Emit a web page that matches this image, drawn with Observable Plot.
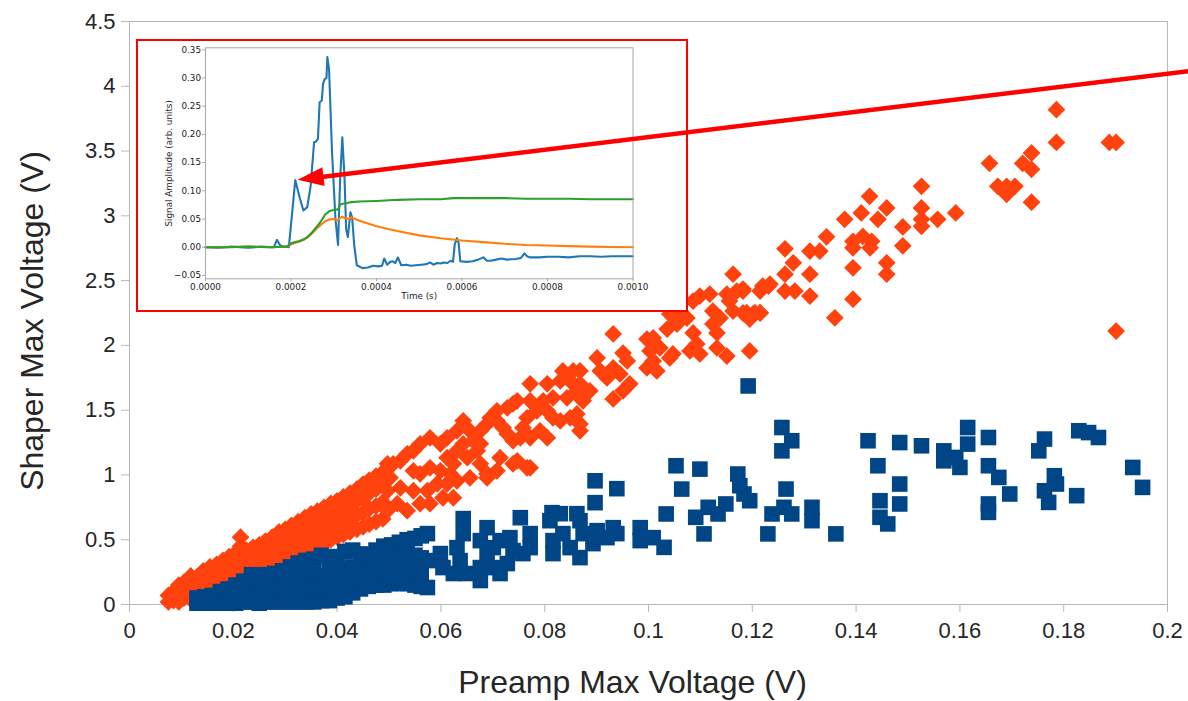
<!DOCTYPE html>
<html><head><meta charset="utf-8">
<script src="https://cdn.jsdelivr.net/npm/d3@7"></script>
<script src="https://cdn.jsdelivr.net/npm/@observablehq/plot@0.6"></script>
<style>
html,body{margin:0;padding:0;background:#fff;}
#chart{width:1188px;height:701px;}
</style></head><body><div id="chart"></div>
<script>
// ---- Main scatter: Preamp Max Voltage (V) vs Shaper Max Voltage (V) ----
const xLabel = "Preamp Max Voltage (V)";
const yLabel = "Shaper Max Voltage (V)";
const xTicks = [0, 0.02, 0.04, 0.06, 0.08, 0.1, 0.12, 0.14, 0.16, 0.18, 0.2];
const yTicks = [0, 0.5, 1, 1.5, 2, 2.5, 3, 3.5, 4, 4.5];

// orange diamond series
const orangeDiamonds = [
  [0.0075,0.02],[0.0075,0.07],[0.0085,0.03],[0.0085,0.10],
  [0.0095,0.02],[0.0095,0.09],[0.0095,0.15],
  [0.0105,0.05],[0.0105,0.12],[0.0105,0.17],
  [0.0118,0.04],[0.0118,0.10],[0.0118,0.18],[0.0118,0.22],
  [0.013,0.07],[0.013,0.14],[0.013,0.21],
  [0.0142,0.06],[0.0142,0.12],[0.0142,0.19],[0.0142,0.26],
  [0.0155,0.09],[0.0155,0.16],[0.0155,0.23],[0.0155,0.29],
  [0.0168,0.10],[0.0168,0.18],[0.0168,0.25],[0.0168,0.31],
  [0.018,0.13],[0.018,0.20],[0.018,0.28],[0.018,0.34],
  [0.0192,0.15],[0.0192,0.23],[0.0192,0.31],[0.0192,0.37],
  [0.0205,0.18],[0.0205,0.26],[0.0205,0.34],[0.0205,0.40],
  [0.0214,0.22],[0.0214,0.30],[0.0214,0.38],[0.0214,0.45],[0.0214,0.52],
  [0.0225,0.20],[0.0225,0.28],[0.0225,0.36],[0.0225,0.42],
  [0.0238,0.22],[0.0238,0.31],[0.0238,0.39],[0.0238,0.44],
  [0.025,0.25],[0.025,0.33],[0.025,0.41],[0.025,0.46],
  [0.0262,0.27],[0.0262,0.36],[0.0262,0.44],[0.0262,0.49],
  [0.0275,0.30],[0.0275,0.38],[0.0275,0.46],[0.0275,0.52],
  [0.0288,0.31],[0.0288,0.40],[0.0288,0.48],[0.0288,0.56],
  [0.03,0.34],[0.03,0.43],[0.03,0.51],[0.03,0.58],
  [0.0312,0.36],[0.0312,0.45],[0.0312,0.53],[0.0312,0.61],
  [0.0325,0.38],[0.0325,0.47],[0.0325,0.56],[0.0325,0.64],
  [0.0338,0.40],[0.0338,0.50],[0.0338,0.59],[0.0338,0.67],
  [0.035,0.42],[0.035,0.52],[0.035,0.61],[0.035,0.70],
  [0.0362,0.45],[0.0362,0.55],[0.0362,0.64],[0.0362,0.72],
  [0.0375,0.47],[0.0375,0.57],[0.0375,0.66],[0.0375,0.75],
  [0.0388,0.50],[0.0388,0.60],[0.0388,0.69],[0.0388,0.78],
  [0.04,0.52],[0.04,0.62],[0.04,0.72],[0.04,0.80],
  [0.0412,0.54],[0.0412,0.64],[0.0412,0.74],[0.0412,0.83],
  [0.0425,0.56],[0.0425,0.66],[0.0425,0.77],[0.0425,0.86],
  [0.0438,0.58],[0.0438,0.69],[0.0438,0.80],[0.0438,0.89],
  [0.045,0.60],[0.045,0.71],[0.045,0.82],[0.045,0.93],
  [0.0462,0.62],[0.0462,0.74],[0.0462,0.86],[0.0462,0.96],
  [0.0475,0.64],[0.0475,0.76],[0.0475,0.89],[0.0475,0.99],
  [0.0488,0.66],[0.0488,0.79],[0.0488,0.92],[0.0488,1.02],
  [0.1163,2.550],[0.1099,2.381],[0.1118,2.396],[0.1086,2.342],[0.1151,2.396],[0.1170,2.419],[0.1182,2.435],[0.1156,2.342],[0.1220,2.458],[0.1234,2.473],
  [0.1041,2.242],[0.1061,2.265],[0.1074,2.211],[0.1055,2.165],[0.1036,2.126],
  [0.1124,2.265],[0.1138,2.211],[0.1124,2.165],[0.1132,2.096],
  [0.1163,2.265],[0.1182,2.250],[0.1201,2.242],[0.1215,2.250],
  [0.1086,2.096],[0.1093,2.011],[0.1080,1.957],[0.1099,1.934],[0.1132,1.980],[0.1151,1.918],[0.1195,1.957],
  [0.0997,2.049],[0.1009,2.057],[0.1022,1.980],[0.1003,1.957],[0.1009,1.880],[0.1041,1.903],[0.1047,1.934],[0.0997,1.826],[0.1016,1.803],
  [0.0932,2.088],[0.0951,1.941],[0.0959,1.880],[0.0932,1.826],[0.0920,1.749],[0.0945,1.780],[0.0964,1.703],[0.0951,1.649],[0.0932,1.587],
  [0.0901,1.903],[0.0907,1.803],
  [0.0835,1.803],[0.0855,1.803],[0.0868,1.803],[0.0830,1.726],[0.0849,1.726],
  [0.0772,1.703],[0.0805,1.703],[0.0868,1.703],[0.0862,1.649],[0.0868,1.595],[0.0843,1.595],[0.0816,1.595],[0.0797,1.572],[0.0887,1.649],[0.0874,1.572],
  [0.0772,1.572],[0.0747,1.572],[0.0739,1.549],[0.0728,1.518],
  [0.0785,1.495],[0.0805,1.495],[0.0816,1.441],[0.0830,1.418],[0.0849,1.441],[0.0862,1.471],[0.0868,1.394],[0.0868,1.341],
  [0.0766,1.441],[0.0758,1.364],[0.0772,1.287],[0.0791,1.341],[0.0805,1.287],
  [0.0708,1.495],[0.0695,1.441],[0.0689,1.394],[0.0676,1.341],[0.0708,1.418],[0.0720,1.364],[0.0728,1.317],[0.0739,1.264],[0.0753,1.287],
  [0.0747,1.109],[0.0772,1.055],[0.0714,1.133],[0.0708,1.032],[0.0689,0.978],
  [0.0643,1.418],[0.0656,1.341],[0.0631,1.341],[0.0612,1.287],[0.0599,1.240],[0.0579,1.287],[0.0560,1.240],[0.0547,1.186],[0.0535,1.163],[0.0522,1.109],[0.0508,1.086],[0.0497,1.086],
  [0.0643,1.240],[0.0631,1.186],[0.0651,1.133],[0.0670,1.186],[0.0676,1.240],[0.0662,1.264],
  [0.0612,1.133],[0.0624,1.086],[0.0618,1.009],[0.0599,1.032],[0.0579,1.055],[0.0560,1.009],[0.0547,1.032],
  [0.0676,1.086],[0.0689,1.009],[0.0656,0.978],[0.0631,0.955],[0.0612,0.932],[0.0593,0.932],[0.0574,0.878],[0.0547,0.878],[0.0522,0.901],[0.0502,0.978],[0.0497,0.878],
  [0.0516,0.778],[0.0497,0.724],[0.0535,0.724],[0.0560,0.778],[0.0579,0.778],[0.0604,0.824],[0.0624,0.824],
  [0.0739,1.086],[0.0766,1.055],
  [0.1786,3.819],[0.1786,3.567],[0.1888,3.567],[0.1901,3.567],[0.1901,2.111],
  [0.1657,3.405],[0.1721,3.405],[0.1738,3.485],[0.1738,3.359],
  [0.1673,3.228],[0.1690,3.228],[0.1706,3.228],[0.1690,3.166],[0.1738,3.105],
  [0.1526,3.228],[0.1426,3.151],[0.1459,3.061],[0.1378,2.973],[0.1410,3.022],[0.1442,2.973],[0.1490,2.914],[0.1526,3.061],[0.1526,2.973],[0.1526,2.919],[0.1557,2.973],[0.1592,3.022],
  [0.1343,2.838],[0.1263,2.745],[0.1311,2.727],[0.1330,2.727],[0.1279,2.637],[0.1263,2.550],[0.1311,2.550],[0.1263,2.419],[0.1282,2.419],[0.1311,2.381],
  [0.1394,2.803],[0.1413,2.841],[0.1430,2.803],[0.1427,2.753],[0.1394,2.753],[0.1394,2.599],[0.1459,2.637],[0.1459,2.550],[0.1490,2.769],[0.1394,2.357],[0.1359,2.213],
  [0.1182,2.419],[0.1215,2.419],[0.1231,2.458],[0.1189,2.252],[0.1205,2.252],[0.1215,2.252],[0.1195,2.203]
];

// dark blue square series
const blueSquares = [
  [0.013,0.01],[0.013,0.05],[0.0145,0.01],[0.0145,0.06],[0.016,0.01],[0.016,0.07],
  [0.0175,0.01],[0.0175,0.05],[0.0175,0.10],
  [0.019,0.01],[0.019,0.06],[0.019,0.12],
  [0.0205,0.01],[0.0205,0.08],[0.0205,0.15],
  [0.022,0.02],[0.022,0.09],[0.022,0.18],
  [0.0235,0.02],[0.0235,0.10],[0.0235,0.17],[0.0235,0.23],
  [0.025,0.01],[0.025,0.09],[0.025,0.16],[0.025,0.21],
  [0.0265,0.02],[0.0265,0.10],[0.0265,0.17],[0.0265,0.23],
  [0.028,0.02],[0.028,0.10],[0.028,0.18],[0.028,0.24],
  [0.0295,0.02],[0.0295,0.10],[0.0295,0.19],[0.0295,0.26],
  [0.031,0.02],[0.031,0.11],[0.031,0.20],[0.031,0.29],
  [0.0325,0.02],[0.0325,0.11],[0.0325,0.21],[0.0325,0.32],
  [0.034,0.02],[0.034,0.12],[0.034,0.22],[0.034,0.34],
  [0.0355,0.02],[0.0355,0.12],[0.0355,0.23],[0.0355,0.35],
  [0.037,0.03],[0.037,0.13],[0.037,0.22],[0.037,0.38],
  [0.0385,0.03],[0.0385,0.14],[0.0385,0.25],[0.0385,0.36],
  [0.04,0.05],[0.04,0.15],[0.04,0.26],[0.04,0.37],
  [0.0415,0.06],[0.0415,0.16],[0.0415,0.27],[0.0415,0.41],
  [0.043,0.09],[0.043,0.18],[0.043,0.29],[0.043,0.42],
  [0.0445,0.12],[0.0445,0.21],[0.0445,0.31],[0.0445,0.39],
  [0.046,0.14],[0.046,0.23],[0.046,0.32],[0.046,0.38],
  [0.0475,0.15],[0.0475,0.25],[0.0475,0.34],[0.0475,0.42],
  [0.049,0.15],[0.049,0.26],[0.049,0.36],[0.049,0.45],
  [0.0505,0.16],[0.0505,0.27],[0.0505,0.37],[0.0505,0.46],
  [0.052,0.17],[0.052,0.27],[0.052,0.38],[0.052,0.48],
  [0.0535,0.16],[0.0535,0.27],[0.0535,0.39],[0.0535,0.50],
  [0.055,0.15],[0.055,0.26],[0.055,0.38],[0.055,0.51],
  [0.0562,0.14],[0.0562,0.25],[0.0562,0.36],[0.0562,0.53],
  [0.0897,0.955],[0.0939,0.894],[0.0897,0.786],[0.0753,0.670],[0.0643,0.663],[0.0814,0.709],[0.0830,0.701],[0.0862,0.701],
  [0.0574,0.547],[0.0643,0.547],[0.0631,0.439],[0.0637,0.339],[0.0624,0.239],[0.0651,0.239],[0.0599,0.393],[0.0604,0.285],[0.0579,0.339],[0.0574,0.131],
  [0.0689,0.593],[0.0676,0.493],[0.0689,0.393],[0.0676,0.285],[0.0676,0.185],[0.0701,0.285],[0.0701,0.439],[0.0714,0.493],
  [0.0733,0.516],[0.0739,0.416],[0.0728,0.316],[0.0714,0.239],[0.0772,0.547],[0.0772,0.439],[0.0758,0.393],
  [0.0810,0.647],[0.0816,0.493],[0.0816,0.393],[0.0835,0.547],[0.0849,0.439],[0.0868,0.647],[0.0874,0.547],[0.0868,0.362],
  [0.0893,0.470],[0.0901,0.570],[0.0920,0.516],[0.0932,0.593],[0.0939,0.547],[0.0984,0.593],[0.0984,0.493],[0.1009,0.516],
  [0.1192,1.687],[0.1257,1.366],[0.1276,1.264],[0.1257,1.186],[0.1423,1.264],[0.1484,1.250],[0.1526,1.225],[0.1569,1.186],
  [0.1592,1.135],[0.1600,1.058],[0.1615,1.366],[0.1615,1.238],[0.1569,1.109],[0.1655,1.289],[0.1655,1.071],[0.1675,0.981],
  [0.1655,0.776],[0.1655,0.711],[0.1696,0.853],[0.1752,1.186],[0.1763,1.277],[0.1782,0.994],[0.1786,0.930],[0.1763,0.878],
  [0.1771,0.788],[0.1825,0.840],[0.1829,1.341],[0.1848,1.327],[0.1867,1.289],[0.1933,1.058],[0.1952,0.904],
  [0.1442,1.071],[0.1484,0.930],[0.1446,0.801],[0.1484,0.776],[0.1446,0.673],[0.1461,0.622],
  [0.1265,0.891],[0.1261,0.750],[0.1276,0.699],[0.1238,0.699],[0.1230,0.545],[0.1315,0.750],[0.1315,0.647],[0.1361,0.545],
  [0.1053,1.071],[0.1099,1.045],[0.1064,0.891],[0.1172,1.007],[0.1176,0.917],[0.1184,0.853],[0.1195,0.801],
  [0.1149,0.776],[0.1134,0.699],[0.1115,0.750],[0.1091,0.673],[0.1107,0.545],[0.1034,0.699],[0.1030,0.441]
];

// ---- Inset: waveform (Time (s) vs Signal Amplitude) ----
const insetXLabel = "Time (s)";
const insetYLabel = "Signal Amplitude (arb. units)";
const insetXTicks = [0, 0.0002, 0.0004, 0.0006, 0.0008, 0.001];
const insetYTicks = [-0.05, 0, 0.05, 0.1, 0.15, 0.2, 0.25, 0.3, 0.35];

const blueSignal = [
  [0,0],[0.00003,-0.001],[0.00006,0.001],[0.0001,-0.001],[0.00013,0.001],[0.00016,0],
  [0.000167,0.013],[0.000175,0.003],[0.000185,0.001],[0.000195,0],
  [0.00021,0.119],[0.000221,0.086],[0.000229,0.065],[0.000238,0.071],[0.000246,0.109],
  [0.000254,0.186],[0.000258,0.187],[0.000263,0.192],[0.000267,0.257],[0.000272,0.26],
  [0.000275,0.29],[0.000279,0.298],[0.000283,0.30],[0.000285,0.337],[0.000289,0.316],
  [0.000296,0.168],[0.000304,0.05],[0.00031,0.004],[0.000315,0.121],[0.00032,0.195],
  [0.000325,0.127],[0.000329,0.032],[0.000333,0.018],[0.000339,0.062],[0.000343,0.053],
  [0.000348,0.003],[0.000354,-0.032],[0.000367,-0.037],[0.00038,-0.036],[0.000392,-0.033],
  [0.000405,-0.034],[0.000413,-0.033],[0.000418,-0.020],[0.000425,-0.031],[0.000432,-0.026],
  [0.000438,-0.025],[0.000444,-0.028],[0.00045,-0.018],[0.000458,-0.032],[0.00047,-0.031],
  [0.00048,-0.033],[0.000492,-0.032],[0.000505,-0.031],[0.000517,-0.030],[0.000525,-0.027],
  [0.000533,-0.031],[0.000542,-0.028],[0.00055,-0.029],[0.000558,-0.027],[0.000566,-0.028],
  [0.000573,-0.024],[0.000579,-0.026],[0.000583,0.005],[0.000588,0.016],[0.000592,0.008],
  [0.000596,-0.025],[0.00061,-0.026],[0.000625,-0.025],[0.000638,-0.022],[0.00065,-0.018],
  [0.000658,-0.024],[0.000667,-0.024],[0.00068,-0.022],[0.000692,-0.020],[0.000705,-0.022],
  [0.000725,-0.021],[0.000738,-0.019],[0.000746,-0.011],[0.000752,-0.016],[0.000758,-0.018],
  [0.00078,-0.018],[0.0008,-0.017],[0.000825,-0.017],[0.00085,-0.018],[0.000875,-0.016],
  [0.0009,-0.016],[0.000925,-0.017],[0.00095,-0.016],[0.000975,-0.016],[0.001,-0.016]
];
const orangeSignal = [
  [0,0],[0.00005,0],[0.0001,0.001],[0.00015,0],[0.00019,0.001],[0.0002,0.005],[0.00021,0.008],
  [0.00022,0.010],[0.00023,0.013],[0.00024,0.018],[0.00025,0.025],[0.00026,0.033],[0.00027,0.040],
  [0.00028,0.046],[0.00029,0.049],[0.0003,0.050],[0.00031,0.048],[0.000315,0.052],[0.00032,0.054],
  [0.000325,0.052],[0.00033,0.051],[0.000335,0.050],[0.00034,0.053],[0.00035,0.050],[0.00036,0.047],
  [0.00038,0.042],[0.0004,0.037],[0.00043,0.032],[0.00046,0.027],[0.0005,0.021],[0.00055,0.016],
  [0.0006,0.012],[0.00065,0.009],[0.0007,0.006],[0.00075,0.004],[0.0008,0.003],[0.00085,0.002],
  [0.0009,0.001],[0.00095,0.0005],[0.001,0]
];
const greenSignal = [
  [0,0],[0.00005,0],[0.0001,0.001],[0.00015,0],[0.00019,0.001],[0.0002,0.007],[0.00021,0.009],
  [0.00022,0.011],[0.00023,0.014],[0.00024,0.019],[0.00025,0.027],[0.00026,0.036],[0.00027,0.046],
  [0.00028,0.058],[0.00029,0.064],[0.0003,0.066],[0.00031,0.067],[0.000315,0.075],[0.00032,0.077],
  [0.00033,0.078],[0.00034,0.080],[0.00036,0.081],[0.0004,0.082],[0.00045,0.084],[0.0005,0.085],
  [0.00055,0.085],[0.00058,0.087],[0.00065,0.087],[0.0007,0.087],[0.00075,0.086],[0.0008,0.086],
  [0.00085,0.086],[0.0009,0.085],[0.00095,0.085],[0.001,0.085]
];

// ---- Arrow annotation (main-chart data coordinates) ----
const arrowFrom = [0.2045, 4.114];
const arrowTo = [0.0325, 3.274];

const X = d => d[0], Y = d => d[1];

function buildInset() {
  const svg = Plot.plot({
    className: "inset-plot",
    width: 548, height: 269,
    marginLeft: 67, marginRight: 53.5, marginTop: 6.3, marginBottom: 31.7,
    x: {domain: [0, 0.001], axis: null},
    y: {domain: [-0.056, 0.3535], axis: null},
    marks: [
      Plot.line(blueSignal, {x: X, y: Y, stroke: "#1f77b4", strokeWidth: 2.1}),
      Plot.line(orangeSignal, {x: X, y: Y, stroke: "#ff7f0e", strokeWidth: 2.1}),
      Plot.line(greenSignal, {x: X, y: Y, stroke: "#2ca02c", strokeWidth: 2.1}),
      Plot.frame({stroke: "#a8a8a8"}),
      Plot.axisX({ticks: insetXTicks, tickFormat: d3.format(".4f"), tickSize: 3, tickPadding: 1.5,
                  stroke: "#a8a8a8", fill: "#222", fontSize: 8.8, label: null}),
      Plot.axisY({ticks: insetYTicks, tickFormat: d3.format(".2f"), tickSize: 3, tickPadding: 1.5,
                  stroke: "#a8a8a8", fill: "#222", fontSize: 8.8, label: null}),
      Plot.text([insetXLabel], {text: d => d, frameAnchor: "bottom", dy: 17, lineAnchor: "middle",
                  textAnchor: "middle", fill: "#222", fontSize: 8.8}),
      Plot.text([insetYLabel], {text: d => d, frameAnchor: "left", dx: -36, rotate: -90,
                  lineAnchor: "middle", textAnchor: "middle", fill: "#222", fontSize: 8.8})
    ]
  });
  svg.setAttribute("style",
    "width:548px;height:269px;max-width:none;overflow:visible;background:none;" +
    "font-family:'DejaVu Sans',sans-serif;font-size:8.8px;");
  return svg;
}

function insetMark() {
  const g = d3.create("svg:g");
  g.append("rect").attr("x", 137).attr("y", 40).attr("width", 550).attr("height", 271)
    .attr("fill", "white").attr("stroke", "#ff0000").attr("stroke-width", 2);
  const inner = buildInset();
  inner.setAttribute("x", 138);
  inner.setAttribute("y", 41);
  g.node().appendChild(inner);
  return g.node();
}

function arrowMark(index, scales) {
  const sx = scales.x(arrowFrom[0]), sy = scales.y(arrowFrom[1]);
  const tx = scales.x(arrowTo[0]), ty = scales.y(arrowTo[1]);
  const dx = tx - sx, dy = ty - sy, len = Math.hypot(dx, dy);
  const ux = dx / len, uy = dy / len;
  const headL = 26, headW = 9.5;
  const bx = tx - ux * headL, by = ty - uy * headL;
  const g = d3.create("svg:g");
  g.append("line").attr("x1", sx).attr("y1", sy).attr("x2", bx + ux * 2).attr("y2", by + uy * 2)
    .attr("stroke", "#ff0000").attr("stroke-width", 4.5);
  g.append("path")
    .attr("d", `M${tx},${ty}L${bx - uy * headW},${by + ux * headW}L${bx + uy * headW},${by - ux * headW}Z`)
    .attr("fill", "#ff0000");
  return g.node();
}

const chart = Plot.plot({
  width: 1188, height: 701,
  marginLeft: 129, marginRight: 21, marginTop: 21, marginBottom: 97,
  style: {fontFamily: "'Liberation Sans', Arial, sans-serif", fontSize: "22px", background: "white", overflow: "visible"},
  x: {domain: [0, 0.2], axis: null},
  y: {domain: [0, 4.5], axis: null},
  marks: [
    Plot.frame({stroke: "#b8b8b8"}),
    Plot.axisX({ticks: xTicks, tickFormat: d => String(d), tickSize: 8, tickPadding: 10,
                stroke: "#b8b8b8", fill: "#262626", fontSize: 22, label: null}),
    Plot.axisY({ticks: yTicks, tickFormat: d => String(d), tickSize: 8, tickPadding: 6,
                stroke: "#b8b8b8", fill: "#262626", fontSize: 22, label: null}),
    Plot.dot(orangeDiamonds, {x: X, y: Y, symbol: "diamond2", r: 8.0, fill: "#ff420e", stroke: "none"}),
    Plot.dot(blueSquares, {x: X, y: Y, symbol: "square", r: 8.8, fill: "#004586", stroke: "none"}),
    Plot.text([xLabel], {text: d => d, frameAnchor: "bottom", dx: -16, dy: 78, lineAnchor: "middle",
                textAnchor: "middle", fontSize: 32, fill: "#262626"}),
    Plot.text([yLabel], {text: d => d, frameAnchor: "left", dx: -97, dy: 8, rotate: -90,
                lineAnchor: "middle", textAnchor: "middle", fontSize: 32, fill: "#262626"}),
    insetMark,
    arrowMark
  ]
});
document.getElementById("chart").appendChild(chart);
</script>
</body></html>
